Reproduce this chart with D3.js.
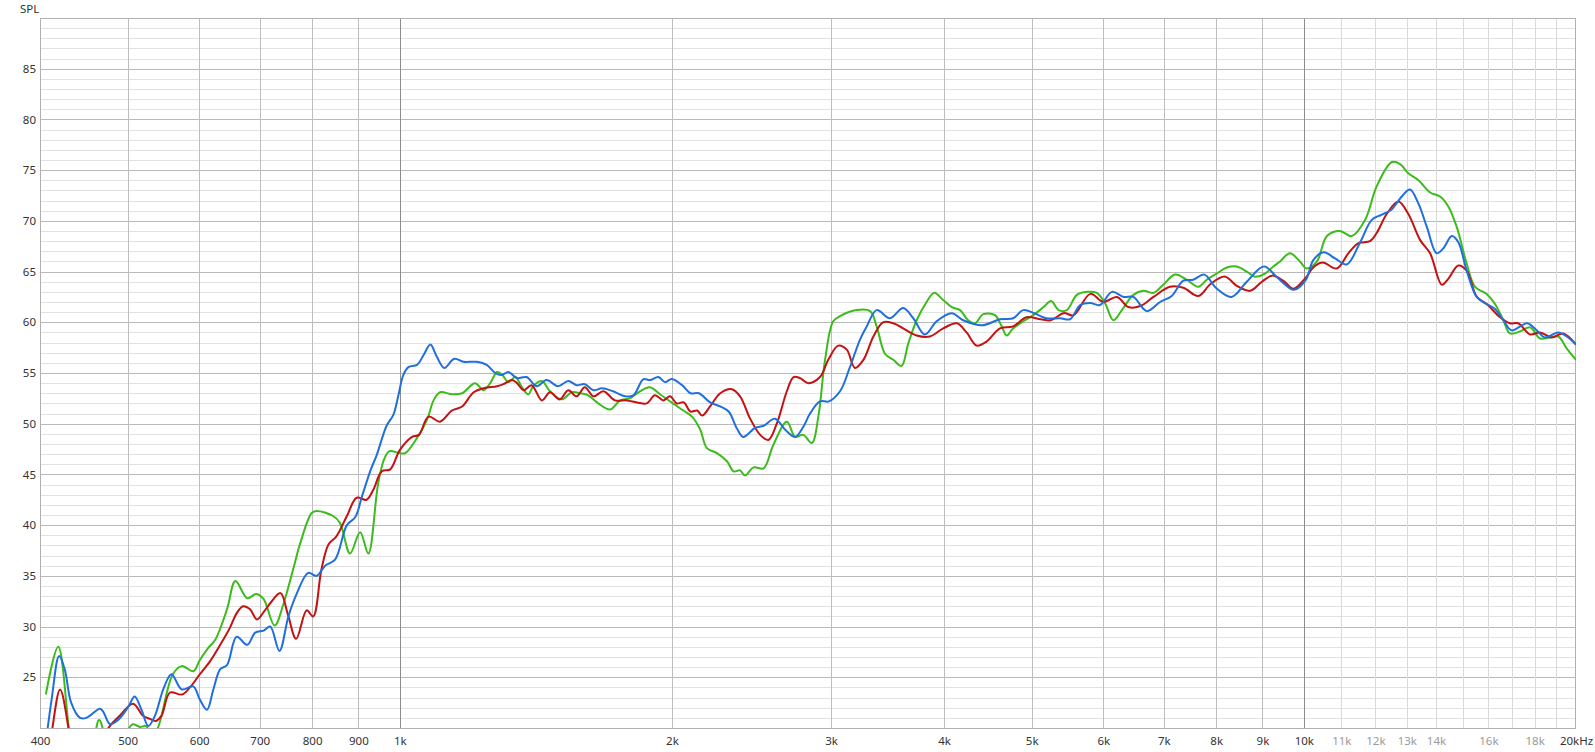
<!DOCTYPE html>
<html>
<head>
<meta charset="utf-8">
<script src="https://cdn.jsdelivr.net/npm/d3@7"></script>
<style>
  html, body { margin: 0; padding: 0; background: #fff; }
  svg { display: block; font-family: "Noto Sans", "Open Sans", sans-serif; }
</style>
</head>
<body>
<svg id="chart" width="1595" height="752"></svg>
<script>
// ---- DATA ----
const yTicks = [25, 30, 35, 40, 45, 50, 55, 60, 65, 70, 75, 80, 85];
const xLabelTicks = [400, 500, 600, 700, 800, 900, 1000, 2000, 3000, 4000, 5000, 6000, 7000, 8000, 9000, 10000, 11000, 12000, 13000, 14000, 16000, 18000, 20000];
const xLabelText = ["400", "500", "600", "700", "800", "900", "1k", "2k", "3k", "4k", "5k", "6k", "7k", "8k", "9k", "10k", "11k", "12k", "13k", "14k", "16k", "18k", "20kHz"];
const xGridFreqs = [500, 600, 700, 800, 900, 2000, 3000, 4000, 5000, 6000, 7000, 8000, 9000];
const xDecadeFreqs = [1000, 10000];
const xFineFreqs = [11000, 12000, 13000, 14000, 15000, 16000, 17000, 18000, 19000];

// [frequency Hz, SPL dB]
const greenData = [
  [406,23.3],[419,28.0],[432,19.0],[440,16],[454,17],[465,20.8],[476,18],[485,17],[493,18.5],[506,20.35],[516,20.1],[524,20.2],[532,19.2],[540,20.0],
  [561,25.3],[574,26.1],[591,25.6],[601,26.7],[614,27.9],[625,28.7],[644,31.7],[658,34.5],[678,32.8],[694,33.2],[707,32.7],[727,30.1],[744,32.3],
  [762,35.6],[776,38.2],[799,41.2],[809,41.4],[844,40.9],[859,40.2],[881,37.2],[904,39.3],[923,37.2],[946,44.0],[961,46.5],[974,47.3],[1000,47.1],
  [1014,47.1],[1045,48.6],[1072,50.4],[1090,52.3],[1108,53.1],[1142,52.9],[1172,53.0],[1211,54.0],[1238,53.3],[1259,54.0],[1281,55.1],[1296,54.9],
  [1319,54.1],[1342,54.6],[1365,53.6],[1387,52.9],[1405,53.7],[1436,54.2],[1466,53.2],[1510,52.4],[1550,53.1],[1583,53.0],[1616,52.8],[1658,52.0],
  [1708,51.4],[1753,52.3],[1797,52.5],[1844,53.2],[1891,53.6],[1940,52.9],[2005,52.0],[2059,51.3],[2105,50.7],[2150,49.4],[2186,47.6],[2243,47.1],
  [2301,46.3],[2340,45.3],[2379,45.4],[2409,44.9],[2462,45.7],[2526,45.6],[2589,47.9],[2680,50.2],[2737,48.7],[2795,48.9],[2856,48.1],[2904,50.7],
  [2954,56.3],[3016,60.1],[3069,60.6],[3201,61.2],[3313,61.1],[3369,59.6],[3441,56.9],[3515,56.3],[3589,55.7],[3651,57.9],[3730,60.2],[3826,62.0],
  [3899,62.9],[3991,62.2],[4079,61.5],[4166,61.2],[4253,60.2],[4328,59.9],[4420,60.8],[4553,60.7],[4632,59.6],[4691,58.7],[4770,59.4],[4894,60.1],
  [5020,60.7],[5154,61.5],[5253,62.1],[5355,61.2],[5467,61.2],[5610,62.7],[5756,63.0],[5902,62.9],[6025,61.9],[6158,60.2],[6291,61.2],[6477,62.7],
  [6646,63.1],[6818,62.9],[6990,63.7],[7205,64.7],[7421,64.2],[7644,63.5],[7810,64.2],[8008,64.8],[8218,65.4],[8429,65.5],[8647,65.0],[8831,64.5],
  [9057,64.8],[9253,65.5],[9411,66.0],[9653,66.8],[9901,66.0],[10072,65.3],[10339,66.0],[10605,68.5],[10960,69.0],[11300,68.5],[11691,70.1],[12038,73.4],
  [12514,75.8],[12778,75.6],[13045,74.7],[13390,74.0],[13793,72.8],[14147,72.4],[14452,71.4],[14761,69.4],[15138,65.8],[15466,63.5],[15929,62.8],
  [16273,61.8],[16622,60.2],[16903,58.9],[17344,59.1],[17790,59.5],[18250,58.4],[18722,58.5],[19119,58.6],[19537,57.4],[20000,56.3]
];

const redData = [
  [406,16],[412,19.5],[421,23.8],[431,19.5],[437,16],[450,14],[466,18.5],[478,20.2],[490,21.2],[507,22.4],[520,21.2],[529,20.9],[537,20.7],[545,21.2],
  [557,23.5],[574,23.3],[586,24.0],[601,25.3],[617,26.6],[633,28.2],[649,29.9],[660,31.3],[671,32.0],[683,31.7],[695,30.7],[708,31.5],[719,32.3],
  [738,33.3],[752,31.2],[768,28.8],[789,31.6],[802,31.0],[819,35.6],[834,38.1],[851,38.9],[874,40.9],[896,42.7],[919,42.5],[935,43.5],[955,45.3],
  [976,45.5],[1000,47.4],[1032,48.7],[1050,48.9],[1076,50.7],[1108,50.2],[1142,51.3],[1172,51.7],[1207,53.1],[1238,53.5],[1281,53.7],[1302,53.9],
  [1331,54.3],[1348,54.0],[1371,53.3],[1399,53.8],[1436,52.3],[1466,53.1],[1503,52.4],[1536,53.3],[1569,52.7],[1602,53.6],[1638,52.7],[1680,53.2],
  [1730,52.3],[1783,52.3],[1829,52.1],[1876,52.0],[1915,52.8],[1957,52.3],[1990,52.7],[2025,52.0],[2061,52.1],[2097,51.2],[2133,51.3],[2160,50.8],
  [2204,51.7],[2262,53.0],[2330,53.4],[2379,52.7],[2441,50.5],[2504,48.9],[2557,48.4],[2612,50.0],[2680,53.2],[2726,54.6],[2772,54.5],[2831,54.0],
  [2916,54.6],[2978,56.3],[3055,57.7],[3122,57.3],[3187,55.5],[3257,56.3],[3341,58.6],[3424,60.0],[3515,59.9],[3604,59.4],[3730,58.7],[3858,58.6],
  [3991,59.4],[4133,59.9],[4236,59.0],[4347,57.7],[4458,58.1],[4612,59.4],[4770,59.6],[4935,60.5],[5114,60.3],[5247,60.2],[5424,60.9],[5562,60.7],
  [5805,62.8],[5999,62.0],[6212,62.5],[6397,61.5],[6594,61.6],[6818,62.5],[7111,63.5],[7357,63.4],[7644,62.6],[7890,63.8],[8183,64.5],[8429,63.6],
  [8721,63.1],[8986,64.0],[9222,64.6],[9488,64.1],[9738,63.3],[10027,64.3],[10267,65.5],[10493,65.9],[10872,65.3],[11200,66.8],[11494,67.8],
  [11838,68.0],[12038,68.8],[12355,70.7],[12723,71.9],[13045,70.7],[13448,68.1],[13793,66.8],[14210,63.7],[14452,64.3],[14820,65.6],[15138,65.1],
  [15534,62.5],[15929,61.8],[16483,60.5],[16903,59.9],[17263,59.9],[17790,58.8],[18250,59.0],[18802,58.5],[19353,58.9],[20000,57.8]
];

const blueData = [
  [404,17],[412,22.8],[420,27.1],[426,25.8],[433,22.5],[443,21.0],[450,21.0],[466,21.9],[470,21.6],[478,20.4],[488,20.8],[501,22.1],[509,23.1],
  [518,21.8],[527,20.2],[536,21.2],[548,23.9],[559,25.3],[574,23.8],[591,24.1],[601,22.8],[612,21.8],[622,23.8],[633,25.8],[644,26.2],[660,29.0],
  [678,28.2],[692,29.4],[707,29.6],[719,30.0],[736,27.6],[753,31.0],[768,33.1],[792,35.3],[809,35.0],[827,36.0],[848,36.6],[874,40.0],[893,40.8],
  [908,42.8],[929,45.5],[942,46.8],[967,49.8],[984,50.9],[996,52.7],[1009,54.8],[1023,55.6],[1045,55.8],[1063,56.8],[1081,57.8],[1099,56.6],
  [1120,55.5],[1149,56.4],[1176,56.1],[1217,56.1],[1248,55.8],[1275,55.0],[1296,54.8],[1319,55.1],[1348,54.5],[1381,54.6],[1417,53.7],[1453,54.3],
  [1497,53.7],[1536,54.2],[1569,53.8],[1602,53.9],[1638,53.3],[1673,53.5],[1722,53.2],[1775,52.7],[1813,52.8],[1860,54.4],[1891,54.3],[1932,54.6],
  [1965,54.1],[1999,54.4],[2052,53.8],[2097,53.0],[2142,53.0],[2204,52.1],[2262,51.7],[2311,51.2],[2361,49.5],[2398,48.7],[2473,49.6],[2526,49.8],
  [2600,50.5],[2669,49.4],[2737,48.7],[2795,49.7],[2843,51.0],[2916,52.2],[2983,52.2],[3069,53.2],[3148,55.6],[3229,58.3],[3285,59.6],[3369,61.2],
  [3485,60.4],[3604,61.4],[3698,60.4],[3809,58.8],[3925,60.1],[4079,60.9],[4200,60.2],[4408,59.7],[4612,60.3],[4770,60.4],[4894,61.2],[5030,60.9],
  [5187,60.4],[5377,60.4],[5512,60.3],[5658,61.7],[5805,61.9],[5950,61.7],[6134,63.0],[6318,62.5],[6477,62.5],[6704,61.1],[6933,62.0],[7142,62.6],
  [7357,64.1],[7545,64.2],[7763,64.7],[7994,63.4],[8319,62.5],[8647,64.0],[9033,65.5],[9351,64.4],[9752,63.2],[10053,64.2],[10240,66.1],[10515,66.9],
  [10827,66.3],[11153,65.7],[11544,67.9],[11888,70.1],[12184,70.6],[12498,71.1],[12832,72.4],[13103,73.1],[13390,71.7],[13679,69.4],[14026,66.8],
  [14268,67.3],[14577,68.5],[14820,67.9],[15138,65.1],[15534,62.5],[15929,61.8],[16273,61.3],[16622,60.2],[16975,59.2],[17656,59.9],[18094,59.2],
  [18486,58.5],[19119,59.0],[19537,58.6],[20000,57.8]
];

const seriesColors = { green: "#3cbb1c", red: "#c41212", blue: "#1f6fde" };

// ---- CHART ----
const svg = d3.select("#chart");
const x = d3.scaleLog().domain([400, 20000]).range([40, 1576]);
const y = d3.scaleLinear().domain([20, 90]).range([728, 18]);
const px = v => Math.round(v) + 0.5;

const grid = svg.append("g");
// horizontal minor (1 dB) and major (5 dB)
d3.range(21, 90).forEach(d => {
  grid.append("line")
    .attr("x1", 40).attr("x2", 1576)
    .attr("y1", px(y(d))).attr("y2", px(y(d)))
    .attr("stroke", d % 5 === 0 ? "#b9b9b9" : "#e2e2e2")
    .attr("stroke-width", 1);
});
function vline(f, color) {
  grid.append("line")
    .attr("x1", px(x(f))).attr("x2", px(x(f)))
    .attr("y1", 18).attr("y2", 728)
    .attr("stroke", color).attr("stroke-width", 1);
}
xFineFreqs.forEach(f => vline(f, "#dadada"));
xGridFreqs.forEach(f => vline(f, "#bdbdbd"));
xDecadeFreqs.forEach(f => vline(f, "#8c8c8c"));

// frame
svg.append("rect")
  .attr("x", 40.5).attr("y", 18.5)
  .attr("width", 1535).attr("height", 710)
  .attr("fill", "none").attr("stroke", "#b0b0b0").attr("stroke-width", 1);

// clip
svg.append("clipPath").attr("id", "plotclip")
  .append("rect").attr("x", 40).attr("y", 18).attr("width", 1536).attr("height", 710);

const line = d3.line()
  .x(d => x(d[0]))
  .y(d => y(d[1]))
  .curve(d3.curveCatmullRom.alpha(0.5));

const plot = svg.append("g").attr("clip-path", "url(#plotclip)");
[["green", greenData], ["red", redData], ["blue", blueData]].forEach(([k, data]) => {
  plot.append("path")
    .datum(data)
    .attr("d", line)
    .attr("fill", "none")
    .attr("stroke", seriesColors[k])
    .attr("stroke-width", 2)
    .attr("stroke-linejoin", "round");
});

// axes
const yAxis = d3.axisLeft(y).tickValues(yTicks).tickSize(0).tickPadding(4);
const gy = svg.append("g").attr("transform", "translate(40,0)").call(yAxis);
gy.select(".domain").remove();
gy.selectAll("text").attr("font-size", 11.5).attr("fill", "#333")
  .attr("font-family", "'Noto Sans', sans-serif");

const xAxis = d3.axisBottom(x).tickValues(xLabelTicks)
  .tickFormat((d, i) => xLabelText[i]).tickSize(0).tickPadding(9);
const gx = svg.append("g").attr("transform", "translate(0,728)").call(xAxis);
gx.select(".domain").remove();
gx.selectAll("text").attr("font-size", 11.5)
  .attr("font-family", "'Noto Sans', sans-serif")
  .attr("fill", d => (d > 10000 && d < 20000) ? "#9a9a9a" : "#333");

svg.append("text")
  .attr("x", 20).attr("y", 13)
  .attr("font-size", 11.5).attr("fill", "#333")
  .attr("font-family", "'Noto Sans', sans-serif")
  .text("SPL");
</script>
</body>
</html>
